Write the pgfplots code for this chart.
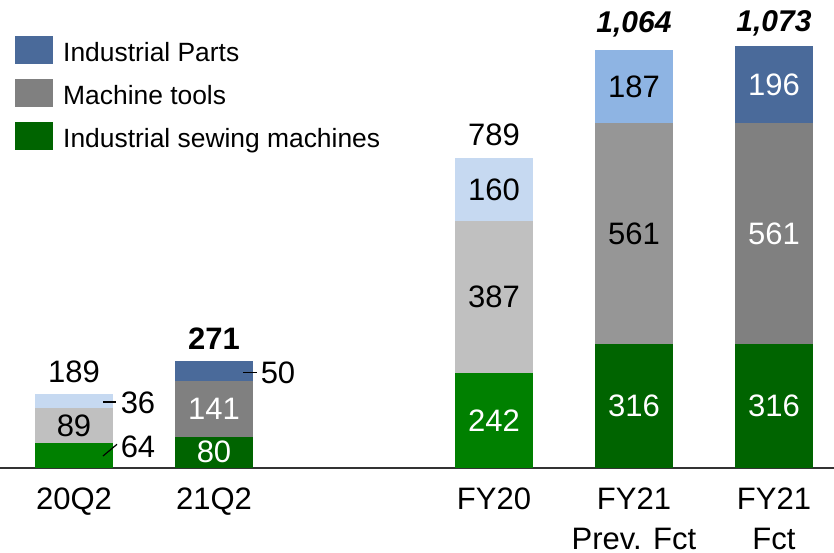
\documentclass[border=0pt]{standalone}
\usepackage{pgfplots}
\pgfplotsset{compat=1.18}
\usepackage{fontspec}
\setmainfont{Liberation Sans}
\definecolor{lblue}{HTML}{C6D9F1}
\definecolor{mblue}{HTML}{8EB4E3}
\definecolor{dblue}{HTML}{4A6A9A}
\definecolor{lgray}{HTML}{C0C0C0}
\definecolor{mgray}{HTML}{969696}
\definecolor{dgray}{HTML}{808080}
\definecolor{lgreen}{HTML}{008000}
\definecolor{dgreen}{HTML}{006400}
\newcommand\numfont{\fontsize{31}{42}\selectfont}
\tikzset{lbl/.style={font=\numfont, inner sep=0pt, anchor=center}}
\pgfplotsset{
  base/.style={at={(0pt,85pt)}, anchor=south west, scale only axis,
    width=834pt, height=468pt, xmin=-0.528571, xmax=5.428571,
    ymin=0, ymax=1190.8, clip=false},
  bars/.style={base, ybar stacked, bar width=0.557, hide axis},
  seg/.style={fill=#1, draw=none},
  lgimg/.style={legend image code/.code={\fill[##1, draw=none] (0pt,-8.8pt) rectangle (38pt,19.2pt); \path (48pt,0pt);}},
}
\begin{document}
\begin{tikzpicture}
% axis with category labels and baseline
\begin{axis}[base, axis x line=bottom, axis y line=none,
  x axis line style={-, line width=2pt, color=black!80},
  xtick={0,1,3,4,5},
  xticklabels={20Q2,21Q2,FY20,{FY21\\Prev. Fct},{FY21\\Fct}},
  major tick length=0pt, xtick style={draw=none},
  xticklabel style={align=center, font=\fontsize{31}{39.5}\selectfont, inner sep=0pt, yshift=-20pt},
  ytick=\empty]
\addplot[draw=none] coordinates {(0,0)};
\end{axis}
% 20Q2
\begin{axis}[bars]
\addplot[seg=lgreen] coordinates {(0,64)};
\addplot[seg=lgray] coordinates {(0,89)};
\addplot[seg=lblue] coordinates {(0,36)};
\end{axis}
% 21Q2
\begin{axis}[bars]
\addplot[seg=dgreen] coordinates {(1,80)};
\addplot[seg=dgray] coordinates {(1,141)};
\addplot[seg=dblue] coordinates {(1,50)};
\end{axis}
% FY20
\begin{axis}[bars]
\addplot[seg=lgreen] coordinates {(3,242)};
\addplot[seg=lgray] coordinates {(3,387)};
\addplot[seg=lblue] coordinates {(3,160)};
\end{axis}
% FY21 Prev. Fct
\begin{axis}[bars]
\addplot[seg=dgreen] coordinates {(4,316)};
\addplot[seg=mgray] coordinates {(4,561)};
\addplot[seg=mblue] coordinates {(4,187)};
\end{axis}
% FY21 Fct
\begin{axis}[bars]
\addplot[seg=dgreen] coordinates {(5,316)};
\addplot[seg=dgray] coordinates {(5,561)};
\addplot[seg=dblue] coordinates {(5,196)};
\end{axis}
% labels and legend
\begin{axis}[base, hide axis,
  legend style={at={(axis description cs:0.01799,0.92308)}, anchor=north west,
    draw=none, fill=none, inner sep=0pt, outer sep=0pt,
    row sep=11.3pt, column sep=0pt,
    font=\fontsize{26.4}{30}\selectfont,
    nodes={inner sep=0pt, text height=19pt, text depth=6pt}},
  legend cell align=left]
\addlegendimage{lgimg, fill=dblue}
\addlegendentry{Industrial Parts}
\addlegendimage{lgimg, fill=dgray}
\addlegendentry{Machine tools}
\addlegendimage{lgimg, fill=dgreen}
\addlegendentry{Industrial sewing machines}
% 20Q2
\node[lbl] at (axis cs:0,108.5) {89};
\node[lbl, yshift=22pt] at (axis cs:0,189) {189};
\node[lbl, xshift=64pt] at (axis cs:0,165) {36};
\draw[line width=1.5pt] ([xshift=29pt]axis cs:0,168) -- ([xshift=42pt]axis cs:0,168);
\node[lbl, xshift=64pt] at (axis cs:0,54) {64};
\draw[line width=1.2pt] ([xshift=29pt]axis cs:0,30.5) -- ([xshift=43pt]axis cs:0,60.3);
% 21Q2
\node[lbl, text=white] at (axis cs:1,40) {80};
\node[lbl, text=white] at (axis cs:1,150.5) {141};
\node[lbl, yshift=23pt] at (axis cs:1,271) {\bfseries 271};
\node[lbl, xshift=64pt] at (axis cs:1,241.7) {50};
\draw[line width=1.5pt] ([xshift=29pt]axis cs:1,243.5) -- ([xshift=43pt]axis cs:1,243.5);
% FY20
\node[lbl, text=white] at (axis cs:3,121) {242};
\node[lbl] at (axis cs:3,435.5) {387};
\node[lbl] at (axis cs:3,709) {160};
\node[lbl, yshift=23pt] at (axis cs:3,789) {789};
% FY21 Prev. Fct
\node[lbl, text=white] at (axis cs:4,158) {316};
\node[lbl] at (axis cs:4,596.5) {561};
\node[lbl] at (axis cs:4,970.5) {187};
\node[lbl, yshift=25pt] at (axis cs:4,1064) {\fontsize{30}{36}\selectfont\bfseries\itshape 1,064};
% FY21 Fct
\node[lbl, text=white] at (axis cs:5,158) {316};
\node[lbl, text=white] at (axis cs:5,596.5) {561};
\node[lbl, text=white] at (axis cs:5,975) {196};
\node[lbl, yshift=23pt] at (axis cs:5,1073) {\fontsize{30}{36}\selectfont\bfseries\itshape 1,073};
\end{axis}
\pgfresetboundingbox
\path (0pt,0pt) rectangle (834pt,553pt);
\end{tikzpicture}
\end{document}
